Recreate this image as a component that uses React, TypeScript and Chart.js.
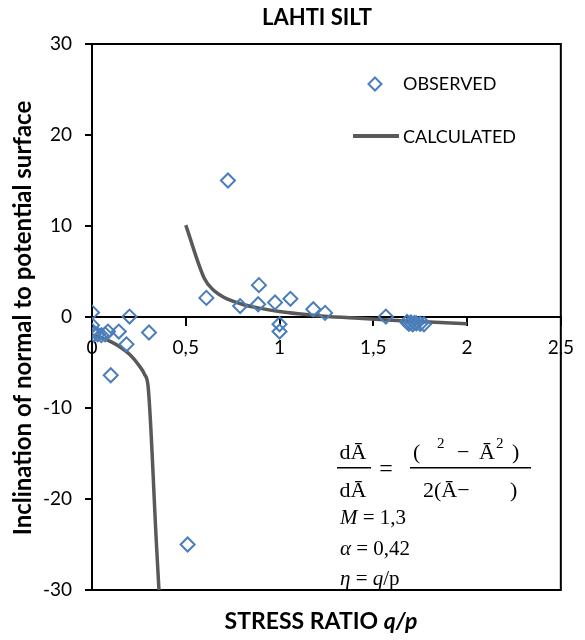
import { useEffect, useRef } from "react";
import { Chart, registerables } from "chart.js";
Chart.register(...registerables);

// Observed data (stress ratio q/p, inclination)
const obsX = [0, 0, 0, 0.01, 0.03, 0.05, 0.07, 0.085, 0.143, 0.2, 0.184, 0.304, 0.1, 0.51, 0.61, 0.725, 0.79, 0.89, 0.886, 0.976, 1.058, 1.0, 1.0, 1.18, 1.243, 1.567, 1.68, 1.69, 1.7, 1.71, 1.72, 1.73, 1.75, 1.77];
const obsY = [0.5, -0.9, -1.5, -1.9, -1.9, -2.0, -1.9, -1.6, -1.6, 0.05, -3.0, -1.7, -6.4, -25.0, 2.1, 15.0, 1.2, 3.5, 1.4, 1.6, 2.0, -0.8, -1.6, 0.85, 0.45, 0.05, -0.55, -0.75, -0.6, -0.8, -0.65, -0.7, -0.75, -0.8];

// Calculated curve, upper branch
const calcUpX = [0.5, 0.6, 0.65, 0.7, 0.8, 0.9, 1.0, 1.1, 1.2, 1.4, 1.6, 1.8, 2.0];
const calcUpY = [10.1, 4.2, 2.9, 2.2, 1.4, 0.95, 0.6, 0.35, 0.15, -0.1, -0.35, -0.55, -0.75];

// Calculated curve, lower branch
const calcLowX = [0, 0.05, 0.1, 0.15, 0.2, 0.25, 0.28, 0.3, 0.343, 0.357];
const calcLowY = [-2.0, -2.3, -2.7, -3.3, -4.1, -5.3, -6.3, -7.8, -24.7, -30];

const xTicks = [0, 0.5, 1, 1.5, 2, 2.5];
const yTicks = [-30, -20, -10, 0, 10, 20, 30];

const BLUE = "#4A7EBB";
const GREY = "#595959";
const SANS = "Lato, 'Liberation Sans', sans-serif";
const SERIF = "'Liberation Serif', 'DejaVu Serif', serif";

const fmt = (v: number) => String(v).replace(".", ",");

const pts = (xs: number[], ys: number[]) => xs.map((x, i) => ({ x, y: ys[i] }));

const overlay = {
  id: "overlay",
  beforeDatasetsDraw(chart: any) {
    const { ctx, chartArea: a } = chart;
    ctx.save();
    ctx.strokeStyle = "#000";
    ctx.lineWidth = 2;
    ctx.strokeRect(a.left, a.top, a.right - a.left, a.bottom - a.top);
    ctx.restore();
  },
  afterDraw(chart: any) {
    const ctx: CanvasRenderingContext2D = chart.ctx;
    ctx.save();
    ctx.fillStyle = "#000";
    // title
    ctx.font = `bold 22px ${SANS}`;
    ctx.textAlign = "center";
    ctx.textBaseline = "middle";
    ctx.fillText("LAHTI SILT", 317, 18);

    // y title
    ctx.save();
    ctx.translate(23, 318);
    ctx.rotate(-Math.PI / 2);
    ctx.font = `bold 24px ${SANS}`;
    ctx.fillText("Inclination of normal to potential surface", 0, 0);
    ctx.restore();

    // x title
    ctx.textAlign = "left";
    const part1 = "STRESS RATIO ";
    const part2 = "q/p";
    ctx.font = `bold 23px ${SANS}`;
    const w1 = ctx.measureText(part1).width;
    ctx.font = `italic bold 23px ${SANS}`;
    const w2 = ctx.measureText(part2).width;
    const sx = 321 - (w1 + w2) / 2;
    ctx.font = `bold 23px ${SANS}`;
    ctx.fillText(part1, sx, 622);
    ctx.font = `italic bold 23px ${SANS}`;
    ctx.fillText(part2, sx + w1, 622);

    // legend
    ctx.strokeStyle = BLUE;
    ctx.lineWidth = 2;
    ctx.beginPath();
    const cx = 375, cy = 84, r = 6.5;
    ctx.moveTo(cx, cy - r);
    ctx.lineTo(cx + r, cy);
    ctx.lineTo(cx, cy + r);
    ctx.lineTo(cx - r, cy);
    ctx.closePath();
    ctx.stroke();
    ctx.strokeStyle = GREY;
    ctx.lineWidth = 4;
    ctx.beginPath();
    ctx.moveTo(353, 136);
    ctx.lineTo(399, 136);
    ctx.stroke();
    ctx.font = `18px ${SANS}`;
    ctx.textAlign = "left";
    ctx.textBaseline = "middle";
    ctx.fillText("OBSERVED", 403, 84);
    ctx.fillText("CALCULATED", 403, 137);

    // formula
    ctx.textBaseline = "alphabetic";
    ctx.font = `22px ${SERIF}`;
    ctx.textAlign = "center";
    ctx.fillText("dĀ", 353, 459);
    ctx.fillText("dĀ", 353, 497);
    ctx.fillRect(337, 467, 34, 1.5);
    ctx.font = `24px ${SERIF}`;
    ctx.fillText("=", 386, 476);
    ctx.fillRect(410, 467, 121, 1.5);
    ctx.textAlign = "left";
    ctx.font = `22px ${SERIF}`;
    ctx.fillText("(", 413, 459);
    ctx.font = `15px ${SERIF}`;
    ctx.fillText("2", 437, 448);
    ctx.font = `22px ${SERIF}`;
    ctx.fillText("−", 457, 459);
    ctx.fillText("Ā", 479, 459);
    ctx.font = `15px ${SERIF}`;
    ctx.fillText("2", 496, 448);
    ctx.font = `22px ${SERIF}`;
    ctx.fillText(")", 512, 459);
    ctx.fillText("2(Ā−", 423, 497);
    ctx.fillText(")", 510, 497);

    const line = (y: number, sym: string, rest: string) => {
      ctx.font = `italic 21px ${SERIF}`;
      ctx.fillText(sym, 340, y);
      const w = ctx.measureText(sym).width;
      ctx.font = `21px ${SERIF}`;
      ctx.fillText(rest, 340 + w, y);
    };
    line(524, "M", " = 1,3");
    line(555, "α", " = 0,42");
    ctx.font = `italic 21px ${SERIF}`;
    ctx.fillText("η", 340, 585);
    let w = ctx.measureText("η").width;
    ctx.font = `21px ${SERIF}`;
    ctx.fillText(" = ", 340 + w, 585);
    w += ctx.measureText(" = ").width;
    ctx.font = `italic 21px ${SERIF}`;
    ctx.fillText("q", 340 + w, 585);
    w += ctx.measureText("q").width;
    ctx.font = `21px ${SERIF}`;
    ctx.fillText("/p", 340 + w, 585);

    ctx.restore();
  },
};

export default function App() {
  const ref = useRef<HTMLCanvasElement>(null);
  useEffect(() => {
    const canvas = ref.current!;
    const chart = new Chart(canvas, {
      type: "scatter",
      data: {
        datasets: [
          {
            label: "OBSERVED",
            data: pts(obsX, obsY),
            showLine: false,
            pointStyle: "rectRot",
            pointRadius: 7,
            pointBorderWidth: 2,
            borderColor: BLUE,
            backgroundColor: "rgba(0,0,0,0)",
          },
          {
            label: "CALCULATED",
            data: pts(calcUpX, calcUpY),
            showLine: true,
            pointRadius: 0,
            borderColor: GREY,
            borderWidth: 3.5,
            cubicInterpolationMode: "monotone",
          },
          {
            label: "CALCULATED 2",
            data: pts(calcLowX, calcLowY),
            showLine: true,
            pointRadius: 0,
            borderColor: GREY,
            borderWidth: 3.5,
            cubicInterpolationMode: "monotone",
          },
        ],
      },
      options: {
        responsive: false,
        animation: false,
        events: [],
        layout: { padding: { top: 44, right: 22, bottom: 50, left: 0 } },
        plugins: { legend: { display: false }, tooltip: { enabled: false }, title: { display: false } },
        scales: {
          x: {
            type: "linear",
            position: { y: 0 } as any,
            min: 0,
            max: 2.5,
            afterFit: (s: any) => { s.height = 0; },
            afterBuildTicks: (s: any) => { s.ticks = xTicks.map((v) => ({ value: v })); },
            ticks: {
              callback: (v: any) => fmt(Number(v)),
              color: "#000",
              font: { family: SANS, size: 19 },
              padding: 11,
              maxRotation: 0,
            },
            grid: { display: true, drawOnChartArea: false, drawTicks: true, tickLength: 8, color: "#000", lineWidth: 2 },
            border: { display: true, color: "#000", width: 2 },
          },
          y: {
            type: "linear",
            position: "left",
            min: -30,
            max: 30,
            afterFit: (s: any) => { s.width = 92; },
            afterBuildTicks: (s: any) => { s.ticks = yTicks.map((v) => ({ value: v })); },
            ticks: {
              callback: (v: any) => fmt(Number(v)),
              color: "#000",
              font: { family: SANS, size: 19 },
              padding: 13,
            },
            grid: { display: true, drawOnChartArea: false, drawTicks: true, tickLength: 7, color: "#000", lineWidth: 2 },
            border: { display: true, color: "#000", width: 2 },
          },
        },
      },
      plugins: [overlay],
    });
    return () => chart.destroy();
  }, []);
  return (
    <div style={{ position: "fixed", left: 0, top: 0, width: 585, height: 640, background: "#fff" }}>
      <canvas ref={ref} width={585} height={640} style={{ width: 585, height: 640, display: "block" }} />
    </div>
  );
}
